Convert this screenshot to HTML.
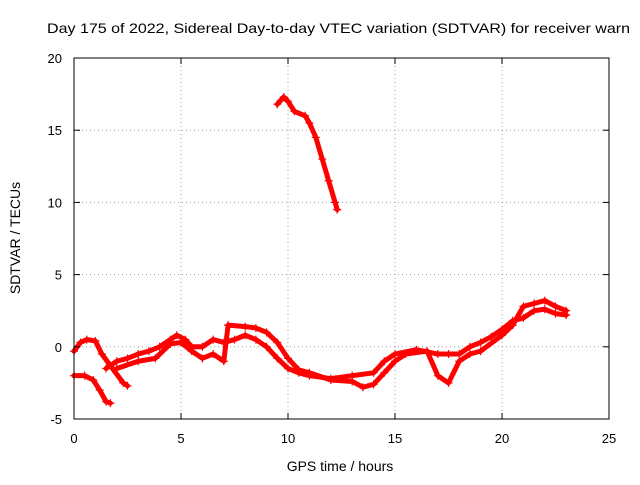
<!DOCTYPE html>
<html><head><meta charset="utf-8"><style>
body{margin:0;background:#fff;overflow:hidden;}
svg text{font-family:"Liberation Sans",Arial,sans-serif;fill:#000;}
</style></head><body>
<svg id="chart" width="640" height="480" viewBox="0 0 640 480" xmlns="http://www.w3.org/2000/svg">
<rect width="640" height="480" fill="#fff"/>
<text x="47" y="33" font-size="14" textLength="583" lengthAdjust="spacingAndGlyphs">Day 175 of 2022, Sidereal Day-to-day VTEC variation (SDTVAR) for receiver warn</text>
<g id="grid"></g>
<g id="series"></g>
<rect x="74" y="58" width="535" height="361" fill="none" stroke="#000" stroke-width="1"/>
<g id="ticks"></g>
<text x="340" y="471" font-size="14" text-anchor="middle">GPS time / hours</text>
<text x="20" y="238" font-size="14" text-anchor="middle" transform="rotate(-90 20 238)">SDTVAR / TECUs</text>
</svg>
<script>
const xTicks=[0,5,10,15,20,25];
const yTicks=[-5,0,5,10,15,20];
const trackTop=[[9.5,16.8],[9.8,17.3],[10.0,17.0],[10.3,16.3],[10.8,16.0],[11.0,15.5],[11.3,14.5],[11.6,13.0],[11.9,11.5],[12.2,10.0],[12.3,9.5]];
const trackLow=[[0,-2.0],[0.5,-2.0],[0.9,-2.3],[1.2,-3.0],[1.5,-3.8],[1.7,-3.9]];
const trackStart=[[0,-0.3],[0.3,0.3],[0.6,0.5],[1.0,0.4],[1.3,-0.5],[1.8,-1.5],[2.3,-2.5],[2.5,-2.7]];
const trackMain=[[1.5,-1.5],[2.0,-1.0],[2.5,-0.8],[3.0,-0.5],[3.5,-0.3],[4.0,0.0],[4.5,0.5],[4.8,0.8],[5.2,0.5],[5.5,0.0],[6.0,0.0],[6.5,0.5],[7.0,0.3],[7.5,0.5],[8.0,0.8],[8.5,0.5],[9.0,0.0],[9.5,-0.8],[10.0,-1.5],[10.5,-1.8],[11,-2.0],[12,-2.2],[13,-2.0],[14,-1.8],[14.5,-1.0],[15,-0.5],[16,-0.2],[17,-0.5],[17.5,-0.5],[18,-0.5],[18.5,0.0],[19,0.3],[19.5,0.7],[20,1.2],[20.5,1.8],[21,2.0],[21.5,2.5],[22,2.6],[22.5,2.3],[23,2.2]];
const trackSecond=[[2,-1.5],[3,-1.0],[3.8,-0.8],[4.5,0.2],[5,0.3],[5.5,-0.3],[6,-0.8],[6.5,-0.5],[7,-1.0],[7.2,1.5],[8,1.4],[8.5,1.3],[9,1.0],[9.5,0.3],[10,-0.8],[10.5,-1.6],[11,-1.8],[12,-2.3],[13,-2.4],[13.5,-2.8],[14,-2.6],[14.5,-1.8],[15,-1.0],[15.5,-0.5],[16.5,-0.3],[17,-2.0],[17.5,-2.5],[18,-1.0],[18.5,-0.5],[19,-0.3],[20,0.8],[20.5,1.5],[21,2.8],[21.5,3.0],[22,3.2],[22.5,2.8],[23,2.5]];
const tracks=[trackTop,trackLow,trackStart,trackMain,trackSecond];

const X0=74,X1=609,Y0=419,Y1=58;
const xs=v=>X0+(v-0)/25*(X1-X0);
const ys=v=>Y0-(v+5)/25*(Y0-Y1);
const NS="http://www.w3.org/2000/svg";
function mk(tag,attrs,parent){const e=document.createElementNS(NS,tag);for(const k in attrs)e.setAttribute(k,attrs[k]);parent.appendChild(e);return e;}
const grid=document.getElementById('grid'),ticks=document.getElementById('ticks'),ser=document.getElementById('series');
xTicks.forEach(t=>{
  const x=xs(t);
  if(t>0&&t<25){const g=mk('line',{x1:x,x2:x,y1:Y1,y2:Y0,stroke:'#a0a0a0','stroke-dasharray':'1,3'},grid);
  
  }
  mk('line',{x1:x,x2:x,y1:Y0,y2:Y0-6,stroke:'#000'},ticks);
  mk('line',{x1:x,x2:x,y1:Y1,y2:Y1+6,stroke:'#000'},ticks);
  const l=mk('text',{x:x,y:443,'font-size':'13','text-anchor':'middle'},ticks);l.textContent=t;
  
  
});
yTicks.forEach(t=>{
  const y=ys(t);
  if(t>-5&&t<20){const g=mk('line',{x1:X0,x2:X1,y1:y,y2:y,stroke:'#a0a0a0','stroke-dasharray':'1,3'},grid);
  
  }
  mk('line',{x1:X0,x2:X0+6,y1:y,y2:y,stroke:'#000'},ticks);
  mk('line',{x1:X1,x2:X1-6,y1:y,y2:y,stroke:'#000'},ticks);
  const l=mk('text',{x:62,y:y+5,'font-size':'13','text-anchor':'end'},ticks);l.textContent=t;
  
  
});
tracks.forEach(tr=>{
  const pl=mk('polyline',{points:tr.map(p=>xs(p[0])+','+ys(p[1])).join(' '),fill:'none',stroke:'#f00','stroke-width':'5','stroke-linejoin':'round','stroke-linecap':'round'},ser);
  
  
  tr.forEach(p=>{
    const x=xs(p[0]),y=ys(p[1]);
    const m=mk('path',{d:`M${x-4},${y}H${x+4}M${x},${y-4}V${y+4}`,stroke:'#f00','stroke-width':'1.2'},ser);
    
    
  });
});
</script>
</body></html>
